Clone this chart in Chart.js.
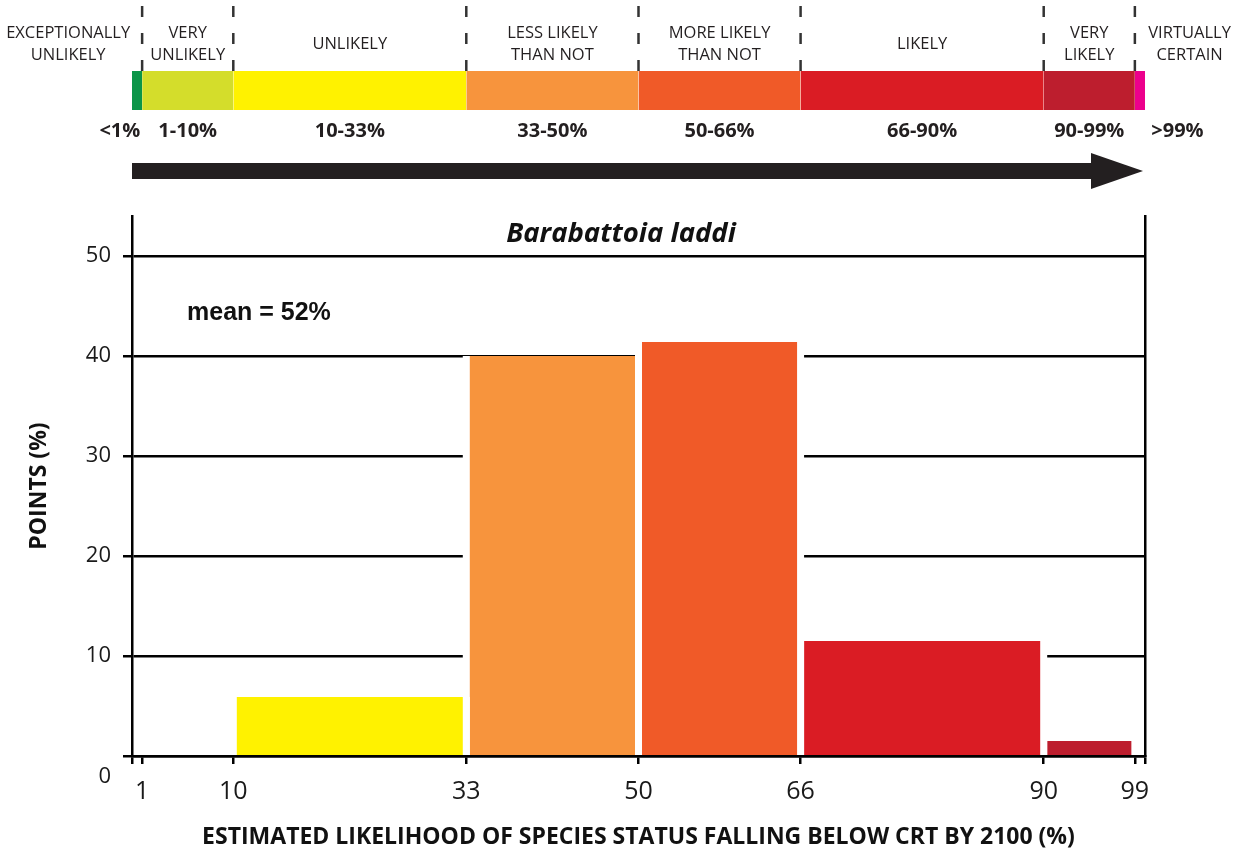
<!DOCTYPE html>
<html><head><meta charset="utf-8">
<script src="https://cdn.jsdelivr.net/npm/chart.js@4.4.1/dist/chart.umd.min.js"></script>
<style>
html,body{margin:0;padding:0;background:#fff;}
#wrap{position:relative;width:1237px;height:854px;overflow:hidden;background:#fff;}
#top{position:absolute;left:0;top:0;width:1237px;height:195px;}
#main{position:absolute;left:0;top:195px;width:1237px;height:659px;}
</style></head><body>
<div id="wrap"><div id="top"><canvas id="c1"></canvas></div><div id="main"><canvas id="c2"></canvas></div></div>
<script>
// ---- Likelihood scale (top band) ----
const CAT_LO = [0, 1, 10, 33, 50, 66, 90, 99];
const CAT_HI = [1, 10, 33, 50, 66, 90, 99, 100];
const CAT_NAMES = [['EXCEPTIONALLY','UNLIKELY'], ['VERY','UNLIKELY'], ['UNLIKELY'], ['LESS LIKELY','THAN NOT'], ['MORE LIKELY','THAN NOT'], ['LIKELY'], ['VERY','LIKELY'], ['VIRTUALLY','CERTAIN']];
const CAT_RANGES = ['<1%', '1-10%', '10-33%', '33-50%', '50-66%', '66-90%', '90-99%', '>99%'];
const CAT_COLORS = ['#0b9548', '#d4dd2b', '#fff200', '#f7943d', '#f05a28', '#da1c24', '#bd1e2e', '#ec008c'];

// ---- Histogram ----
const BIN_LO = [10, 33, 50, 66, 90];
const BIN_HI = [33, 50, 66, 90, 99];
const POINTS = [5.9, 40.0, 41.4, 11.5, 1.5];
const BIN_COLORS = ['#fff200', '#f7943d', '#f05a28', '#da1c24', '#bd1e2e'];
const X_TICKS = [0, 1, 10, 33, 50, 66, 90, 99, 100];
const X_TICK_LABELS = ['', '1', '10', '33', '50', '66', '90', '99', ''];
const Y_TICKS = [0, 10, 20, 30, 40, 50];
const SPECIES = 'Barabattoia laddi';
const MEAN_TEXT = 'mean = 52%';
const X_TITLE = 'ESTIMATED LIKELIHOOD OF SPECIES STATUS FALLING BELOW CRT BY 2100 (%)';
const Y_TITLE = 'POINTS (%)';

Chart.defaults.font.family = '"Open Sans", sans-serif';
Chart.defaults.color = '#1a1a1a';
Chart.defaults.animation = false;

const INK = '#231f20';
// x mapping shared by both charts: value 0 at px 132, 100 at px 1145 on a 1237px canvas
const PX0 = 132, PX100 = 1145, W = 1237;
const U = 100 / (PX100 - PX0);
const XMIN = -PX0 * U, XMAX = 100 + (W - PX100) * U;

// arrow head image (tip at the image centre)
const head = document.createElement('canvas');
head.width = 108; head.height = 36;
(function(){
  const g = head.getContext('2d');
  g.fillStyle = '#fff'; g.fillRect(0, 0, 108, 36);
  g.fillStyle = INK;
  g.beginPath(); g.moveTo(0, 0); g.lineTo(52, 18); g.lineTo(0, 36); g.closePath(); g.fill();
})();

const BAND_TOP = 71, BAND_BOT = 110, SEP_TOP = 6, ARROW_Y = 171;

const topDatasets = [];
CAT_LO.forEach((lo, i) => {
  topDatasets.push({
    data: [{x: lo, y: BAND_TOP}, {x: CAT_HI[i], y: BAND_TOP}],
    backgroundColor: CAT_COLORS[i], fill: {value: BAND_BOT},
    borderWidth: 0, pointRadius: 0
  });
});
CAT_LO.slice(1).forEach(b => {
  topDatasets.push({
    data: [{x: b, y: BAND_TOP}, {x: b, y: BAND_BOT}],
    borderColor: '#ffffff', borderWidth: 2, pointRadius: 0, fill: false
  });
  topDatasets.push({
    data: [{x: b, y: SEP_TOP}, {x: b, y: BAND_TOP}],
    borderColor: '#333333', borderWidth: 2.5, borderDash: [11, 16], pointRadius: 0, fill: false
  });
});
topDatasets.push({
  data: [{x: 0, y: ARROW_Y}, {x: 100, y: ARROW_Y}],
  borderColor: INK, borderWidth: 16, borderCapStyle: 'butt', fill: false,
  pointRadius: [0, 10], pointStyle: head, pointBorderWidth: 0
});

const topLabels = {
  id: 'topLabels',
  afterDraw(chart) {
    const ctx = chart.ctx, xs = chart.scales.x;
    ctx.save();
    ctx.fillStyle = INK;
    ctx.textAlign = 'center';
    ctx.textBaseline = 'middle';
    CAT_LO.forEach((lo, i) => {
      const c = (lo + CAT_HI[i]) / 2;
      let nameAt = c, rangeAt = c;
      if (i === 0) { nameAt = c - 6.8; rangeAt = c - 1.7; }
      if (i === CAT_LO.length - 1) { nameAt = c + 4.9; rangeAt = c + 3.7; }
      const lines = CAT_NAMES[i];
      ctx.font = '16.5px "Open Sans"';
      const nx = xs.getPixelForValue(nameAt);
      if (lines.length === 1) ctx.fillText(lines[0], nx, 44);
      else { ctx.fillText(lines[0], nx, 33.5); ctx.fillText(lines[1], nx, 55.5); }
      ctx.font = 'bold 20px "Open Sans"';
      ctx.fillText(CAT_RANGES[i], xs.getPixelForValue(rangeAt), 131);
    });
    ctx.restore();
  }
};

new Chart(document.getElementById('c1'), {
  type: 'line',
  data: {datasets: topDatasets},
  options: {
    responsive: true, maintainAspectRatio: false, devicePixelRatio: 1,
    events: [],
    layout: {padding: 0, autoPadding: false},
    plugins: {legend: {display: false}, tooltip: {enabled: false}},
    scales: {
      x: {type: 'linear', display: false, min: XMIN, max: XMAX},
      y: {type: 'linear', display: false, min: 0, max: 195, reverse: true}
    }
  },
  plugins: [topLabels]
});

const mainDatasets = BIN_LO.map((lo, i) => ({
  data: [{x: lo, y: 0}, {x: lo, y: POINTS[i]}, {x: BIN_HI[i], y: POINTS[i]}, {x: BIN_HI[i], y: 0}],
  backgroundColor: BIN_COLORS[i], fill: 'origin',
  borderColor: '#ffffff', borderWidth: 7,
  segment: {borderColor: c => c.p0DataIndex === 1 ? 'rgba(255,255,255,0)' : '#ffffff'},
  pointRadius: 0, tension: 0, xAxisID: 'x', yAxisID: 'y'
}));

const mainText = {
  id: 'mainText',
  afterDraw(chart) {
    const ctx = chart.ctx;
    ctx.save();
    ctx.fillStyle = '#111';
    ctx.textBaseline = 'middle';
    ctx.textAlign = 'center';
    ctx.font = 'italic bold 27.5px "Open Sans"';
    ctx.fillText(SPECIES, 621, 39);
    ctx.textAlign = 'left';
    ctx.font = 'bold 25px "Liberation Sans"';
    ctx.fillText(MEAN_TEXT, 187, 118);
    ctx.restore();
  }
};

const noPad = s => { s.paddingTop = 0; s.paddingBottom = 0; };

new Chart(document.getElementById('c2'), {
  type: 'line',
  data: {datasets: mainDatasets},
  options: {
    responsive: true, maintainAspectRatio: false, devicePixelRatio: 1,
    events: [],
    layout: {padding: {top: 21, left: 0, right: 0, bottom: 0}, autoPadding: false},
    plugins: {legend: {display: false}, tooltip: {enabled: false}},
    scales: {
      x: {
        type: 'linear', position: 'bottom', min: 0, max: 100,
        afterBuildTicks: s => { s.ticks = X_TICKS.map(v => ({value: v})); },
        afterFit: s => { s.height = 98; s.paddingLeft = 0; s.paddingRight = 0; },
        ticks: {autoSkip: false, maxRotation: 0, padding: 13, color: '#1a1a1a',
          font: {size: 25}, callback: (v, i) => X_TICK_LABELS[i], z: 1},
        grid: {drawOnChartArea: false, drawTicks: true, tickLength: 8, color: '#000', lineWidth: 2.5, z: 1},
        border: {display: true, color: '#000', width: 2.5, z: 1},
        title: {display: true, text: X_TITLE, color: '#111', font: {size: 23, weight: 'bold'}, padding: {top: 0, bottom: 3}}
      },
      y: {
        type: 'linear', position: 'left', min: 0, max: 54,
        afterBuildTicks: s => { s.ticks = Y_TICKS.map(v => ({value: v})); },
        afterFit: s => { s.width = PX0; noPad(s); },
        ticks: {padding: 12, color: '#1a1a1a', font: {size: 22, lineHeight: 1.85},
          callback: v => v === 0 ? ['', '0'] : String(v)},
        grid: {color: '#000', lineWidth: 2.5, tickLength: 9, drawTicks: true},
        border: {display: true, color: '#000', width: 2.5},
        title: {display: true, text: Y_TITLE, color: '#111', font: {size: 23, weight: 'bold'}, padding: {top: 26, bottom: 0}}
      },
      y2: {
        type: 'linear', position: 'right', min: 0, max: 54,
        afterFit: s => { s.width = W - PX100; noPad(s); },
        ticks: {display: false},
        grid: {display: false, drawTicks: false},
        border: {display: true, color: '#000', width: 2.5}
      }
    }
  },
  plugins: [mainText]
});
</script>
</body></html>
